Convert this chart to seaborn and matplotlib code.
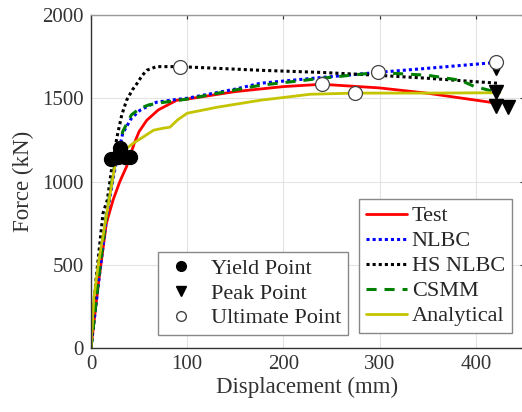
import numpy as np
import pandas as pd
import matplotlib
matplotlib.use("Agg")
import matplotlib.pyplot as plt
from matplotlib.lines import Line2D
import seaborn as sns

# ---- data ----
test_x = [0, 8, 16, 23, 30, 37, 45, 50, 58, 70, 89, 100, 150, 200, 240, 300, 350, 415, 420]
test_y = [0, 400, 750, 890, 1000, 1090, 1230, 1300, 1368, 1430, 1488, 1495, 1540, 1570, 1584, 1562, 1530, 1476, 1470]

nlbc_x = [0, 8, 16, 24, 33, 42, 51, 60, 68, 85, 100, 150, 176, 240, 298, 350, 421]
nlbc_y = [0, 400, 780, 1050, 1290, 1380, 1428, 1455, 1476, 1490, 1500, 1555, 1590, 1625, 1655, 1680, 1715]

hs_x = [0, 5, 12.5, 17, 22, 27, 32, 37, 43, 48, 53, 58, 68, 92, 130, 176, 240, 298, 350, 423]
hs_y = [0, 400, 810, 890, 1100, 1267, 1400, 1488, 1550, 1590, 1635, 1668, 1690, 1690, 1680, 1668, 1655, 1638, 1620, 1590]

csmm_x = [0, 8, 16, 24, 33, 42, 51, 60, 75, 100, 150, 176, 240, 298, 350, 384, 398, 421]
csmm_y = [0, 420, 800, 1080, 1300, 1400, 1440, 1460, 1475, 1495, 1550, 1578, 1620, 1655, 1638, 1608, 1572, 1537]

ana_x = [0, 3, 8, 15, 25, 35, 44, 55, 65, 75, 82, 90, 100, 131, 176, 228, 274, 350, 425]
ana_y = [0, 300, 520, 760, 1100, 1190, 1230, 1270, 1308, 1320, 1326, 1370, 1410, 1446, 1488, 1524, 1531, 1531, 1533]

yield_x = [21, 28, 30, 35, 41]
yield_y = [1138, 1150, 1200, 1145, 1148]

peak_x = [421, 421, 421, 433]
peak_y = [1682, 1540, 1455, 1450]

ult_x = [92, 240, 274, 298, 421]
ult_y = [1690, 1584, 1531, 1657, 1718]

series_names = ["Test", "NLBC", "HS NLBC", "CSMM", "Analytical"]
marker_names = ["Yield Point", "Peak Point", "Ultimate Point"]
x_ticks = [0, 100, 200, 300, 400]
y_ticks = [0, 500, 1000, 1500, 2000]

# ---- styling ----
sns.set_style("white")
plt.rcParams["font.family"] = ["Liberation Serif", "DejaVu Serif"]
plt.rcParams["font.size"] = 13

fig = plt.figure(figsize=(5.22, 4.12), dpi=100)
ax = fig.add_axes([91 / 522, 64 / 412, (0.962 * 450) / 522, 333 / 412])

styles = {
    "Test": dict(color="#ff0000", ls="-", lw=2.0),
    "NLBC": dict(color="#0000ff", ls=(0, (1, 1)), lw=2.2),
    "HS NLBC": dict(color="#000000", ls=(0, (1, 1)), lw=2.2),
    "CSMM": dict(color="#008000", ls=(0, (3.3, 2.6)), lw=2.2),
    "Analytical": dict(color="#c4c400", ls="-", lw=2.0),
}
data = {
    "Test": (test_x, test_y),
    "NLBC": (nlbc_x, nlbc_y),
    "HS NLBC": (hs_x, hs_y),
    "CSMM": (csmm_x, csmm_y),
    "Analytical": (ana_x, ana_y),
}
for name in series_names:
    x, y = data[name]
    df = pd.DataFrame({"x": x, "y": y})
    st = styles[name]
    sns.lineplot(data=df, x="x", y="y", ax=ax, color=st["color"], lw=st["lw"],
                 linestyle=st["ls"], sort=False, estimator=None)

ax.plot(yield_x, yield_y, "o", color="black", ms=10, mec="black", zorder=5)
ax.plot(peak_x, peak_y, "v", color="black", ms=10, mec="black", zorder=5)
ax.plot(ult_x, ult_y, "o", color="white", ms=10, mec="#444444", mew=0.9, zorder=6)

ax.set_xlim(0, 450)
ax.set_ylim(0, 2000)
ax.set_xticks(x_ticks)
ax.set_yticks(y_ticks)
ax.tick_params(labelsize=15, direction="in", length=3, color="#333333",
               labelcolor="#333333", top=True, right=True, pad=5)
ax.grid(True, color="#e3e3e3", lw=0.8)
for s in ax.spines.values():
    s.set_color("#999999")
    s.set_linewidth(1.0)
ax.spines["left"].set_color("#333333")
ax.spines["bottom"].set_color("#333333")
ax.set_xlabel("Displacement (mm)", fontsize=16.5, color="#333333", labelpad=2)
ax.set_ylabel("Force (kN)", fontsize=16.5, color="#333333", labelpad=6)

line_handles = [Line2D([0], [0], color=styles[n]["color"], lw=styles[n]["lw"],
                       ls=styles[n]["ls"]) for n in series_names]
leg1 = ax.legend(line_handles, series_names, loc="lower right",
                 bbox_to_anchor=(0.972, 0.045), borderaxespad=0, fontsize=16,
                 handlelength=1.85, handletextpad=0.22, labelspacing=0.2,
                 fancybox=False, framealpha=1, edgecolor="#888888",
                 borderpad=0.3)
ax.add_artist(leg1)

mk_handles = [
    Line2D([0], [0], marker="o", color="black", ls="none", ms=7),
    Line2D([0], [0], marker="v", color="black", ls="none", ms=7),
    Line2D([0], [0], marker="o", color="white", mec="#444444", ls="none", ms=7),
]
ax.legend(mk_handles, marker_names, loc="lower left",
          bbox_to_anchor=(0.155, 0.039), borderaxespad=0, fontsize=16,
          handlelength=1.5, handletextpad=0.6, labelspacing=0.18,
          fancybox=False, framealpha=1, edgecolor="#888888", borderpad=0.3)

fig.savefig("out.png", dpi=100)
